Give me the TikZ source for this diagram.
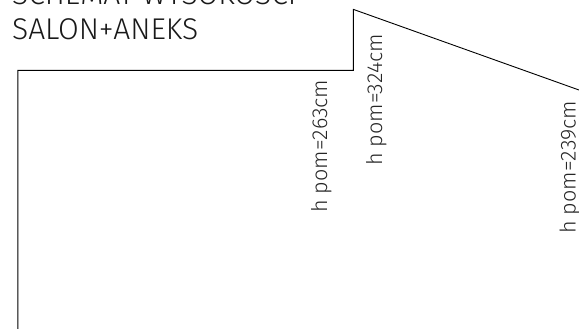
\documentclass[tikz,border=0pt]{standalone}
\usepackage{fontspec}
\setmainfont{Fira Sans Light}
\tikzset{
  outline/.style={draw=black,line width=0.9pt,line join=miter},
  title/.style={anchor=base west,inner sep=0pt,font=\fontsize{30}{34}\selectfont,text=black!90},
  hlabel/.style={rotate=90,anchor=base west,inner sep=0pt,font=\fontsize{21.6}{25}\selectfont,text=black!85}
}
\begin{document}
\begin{tikzpicture}[x=1pt,y=-1pt]
\useasboundingbox (0,0) rectangle (579,329);
\clip (0,0) rectangle (579,329);
\coordinate (a) at (17.8,329);
\coordinate (b) at (17.8,70.4);
\coordinate (c) at (353.4,70.4);
\coordinate (d) at (353.4,9.4);
\coordinate (e) at (579,90);
\draw[outline] (a) -- (b) -- (c) -- (d) -- (e);
\node[title] (t1) at (12,4.5) {SCHEMAT WYSOKOSCI};
\node[title] (t2) at (12,39.2) {SALON+ANEKS};
\node[hlabel] (h1) at (327,213) {h pom=263cm};
\node[hlabel] (h2) at (382,166) {h pom=324cm};
\node[hlabel] (h3) at (575.5,234) {h pom=239cm};
\end{tikzpicture}
\end{document}
